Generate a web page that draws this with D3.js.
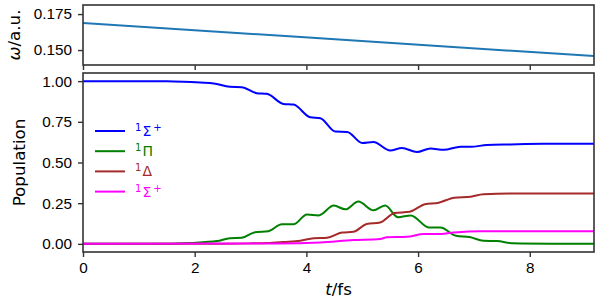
<!DOCTYPE html>
<html>
<head>
<meta charset="utf-8">
<script src="https://cdn.jsdelivr.net/npm/d3@7"></script>
<style>
  body { margin: 0; background: #fff; }
  svg { font-family: "DejaVu Sans", sans-serif; }
</style>
</head>
<body>
<div id="chart"></div>
<script>
// frequency (top panel)
const omegaPoints = [[0, 0.1688], [3.9, 0.159], [9.15, 0.1458]];

// populations (bottom panel), [t in fs, population]
const sigmaPop = [[0, 1.0], [1.0, 1.0], [1.5, 0.999], [1.8, 0.996], [2.1, 0.991], [2.34, 0.986], [2.63, 0.965], [2.84, 0.963],
  [3.11, 0.926], [3.29, 0.922], [3.59, 0.860], [3.77, 0.856], [4.07, 0.778], [4.25, 0.772], [4.52, 0.69], [4.73, 0.688],
  [5.0, 0.62], [5.2, 0.626], [5.5, 0.574], [5.71, 0.589], [5.98, 0.564], [6.22, 0.586], [6.46, 0.578], [6.76, 0.597],
  [6.94, 0.597], [7.23, 0.607], [7.65, 0.611], [8.24, 0.615], [9.15, 0.615]];
const piPop = [[0, 0], [1.5, 0.001], [1.92, 0.006], [2.4, 0.017], [2.63, 0.035], [2.84, 0.037], [3.08, 0.072], [3.32, 0.078],
  [3.56, 0.12], [3.77, 0.12], [4.01, 0.181], [4.22, 0.175], [4.49, 0.235], [4.70, 0.212], [4.93, 0.26], [5.20, 0.206],
  [5.41, 0.236], [5.64, 0.164], [5.87, 0.175], [6.19, 0.101], [6.4, 0.1], [6.68, 0.05], [6.92, 0.042], [7.17, 0.019],
  [7.41, 0.017], [7.71, 0.004], [8.5, 0.001], [9.15, 0.0]];
const deltaPop = [[0, 0], [2.5, 0.001], [3.0, 0.003], [3.3, 0.006], [3.59, 0.012], [3.89, 0.019], [4.13, 0.035], [4.37, 0.038],
  [4.64, 0.07], [4.84, 0.074], [5.08, 0.122], [5.32, 0.131], [5.58, 0.19], [5.85, 0.197], [6.12, 0.244], [6.37, 0.253],
  [6.65, 0.284], [6.94, 0.29], [7.17, 0.305], [7.71, 0.309], [9.15, 0.309]];
const sigma2Pop = [[0, 0], [3.5, 0.002], [4.25, 0.009], [4.84, 0.023], [5.32, 0.03], [5.44, 0.04], [5.8, 0.043], [6.1, 0.06],
  [6.34, 0.06], [6.64, 0.07], [7.11, 0.078], [9.15, 0.078]];

const seriesColors = ["blue", "green", "brown", "magenta"];
const seriesLabels = [["1", "Σ", "+"], ["1", "Π", ""], ["1", "Δ", ""], ["1", "Σ", "+"]];

const xTicks = [0, 2, 4, 6, 8];
const omegaTicks = [0.150, 0.175];
const popTicks = [0, 0.25, 0.5, 0.75, 1.0];

const width = 600, height = 300;
const left = 83, right = 594;
const top1 = 5, bottom1 = 65, top2 = 73, bottom2 = 252;
const spine = "#333";

const svg = d3.select("#chart").append("svg")
    .attr("width", width)
    .attr("height", height);

const x = d3.scaleLinear().domain([0, 9.15]).range([left, right]);
const yTop = d3.scaleLinear().domain([0.1396, 0.1813]).range([bottom1, top1]);
const yPop = d3.scaleLinear().domain([-0.05, 1.05]).range([bottom2, top2]);

function styleAxis(g, showText) {
    g.select(".domain").remove();
    g.selectAll("line").attr("stroke", spine).attr("stroke-width", 1.4);
    g.selectAll("text")
        .style("font-size", "15.3px")
        .style("fill", "#000")
        .style("display", showText ? null : "none");
}

// top panel axes
svg.append("g")
    .attr("transform", `translate(0,${bottom1})`)
    .call(d3.axisBottom(x).tickValues(xTicks).tickSize(5))
    .call(g => styleAxis(g, false));

svg.append("g")
    .attr("transform", `translate(${left},0)`)
    .call(d3.axisLeft(yTop).tickValues(omegaTicks).tickFormat(d3.format(".3f")).tickSize(5).tickPadding(6))
    .call(g => styleAxis(g, true));

// bottom panel axes
svg.append("g")
    .attr("transform", `translate(0,${bottom2})`)
    .call(d3.axisBottom(x).tickValues(xTicks).tickSize(5).tickPadding(5))
    .call(g => styleAxis(g, true));

svg.append("g")
    .attr("transform", `translate(${left},0)`)
    .call(d3.axisLeft(yPop).tickValues(popTicks).tickFormat(d3.format(".2f")).tickSize(5).tickPadding(6))
    .call(g => styleAxis(g, true));

// omega line
svg.append("path")
    .datum(omegaPoints)
    .attr("d", d3.line().x(d => x(d[0])).y(d => yTop(d[1])))
    .attr("fill", "none")
    .attr("stroke", "#1f77b4")
    .attr("stroke-width", 2);

// population lines
const popLine = d3.line()
    .x(d => x(d[0]))
    .y(d => yPop(d[1]))
    .curve(d3.curveMonotoneX);

[sigmaPop, piPop, deltaPop, sigma2Pop].forEach((s, i) => {
    svg.append("path")
        .datum(s)
        .attr("d", popLine)
        .attr("fill", "none")
        .attr("stroke", seriesColors[i])
        .attr("stroke-width", 2)
        .attr("stroke-linejoin", "round");
});

// frames
[[top1, bottom1], [top2, bottom2]].forEach(([t, b]) => {
    svg.append("rect")
        .attr("x", left).attr("y", t)
        .attr("width", right - left).attr("height", b - t)
        .attr("fill", "none")
        .attr("stroke", spine)
        .attr("stroke-width", 1.6);
});

// legend
const legend = svg.append("g").attr("transform", "translate(95,131)");
seriesLabels.forEach((lab, i) => {
    const row = legend.append("g").attr("transform", `translate(0,${i * 20.2})`);
    row.append("line")
        .attr("x1", 0).attr("x2", 30)
        .attr("stroke", seriesColors[i])
        .attr("stroke-width", 2);
    const txt = row.append("text")
        .attr("x", 40).attr("y", 5)
        .style("font-size", "14px")
        .style("fill", seriesColors[i]);
    txt.append("tspan").attr("dy", -5).style("font-size", "10px").text(lab[0]);
    txt.append("tspan").attr("dy", 5).attr("dx", 1).text(lab[1]);
    if (lab[2]) txt.append("tspan").attr("dy", -5).attr("dx", 2).style("font-size", "10px").text(lab[2]);
});

// axis labels
const omegaLabel = svg.append("text")
    .attr("transform", `translate(19.5,${(top1 + bottom1) / 2}) rotate(-90)`)
    .attr("text-anchor", "middle")
    .style("font-size", "16.7px");
omegaLabel.append("tspan").style("font-style", "italic").text("ω");
omegaLabel.append("tspan").text("/a.u.");

svg.append("text")
    .attr("transform", `translate(25,${(top2 + bottom2) / 2}) rotate(-90)`)
    .attr("text-anchor", "middle")
    .style("font-size", "16.7px")
    .text("Population");

const tLabel = svg.append("text")
    .attr("x", (left + right) / 2)
    .attr("y", 295)
    .attr("text-anchor", "middle")
    .style("font-size", "16.7px");
tLabel.append("tspan").style("font-style", "italic").text("t");
tLabel.append("tspan").text("/fs");
</script>
</body>
</html>
